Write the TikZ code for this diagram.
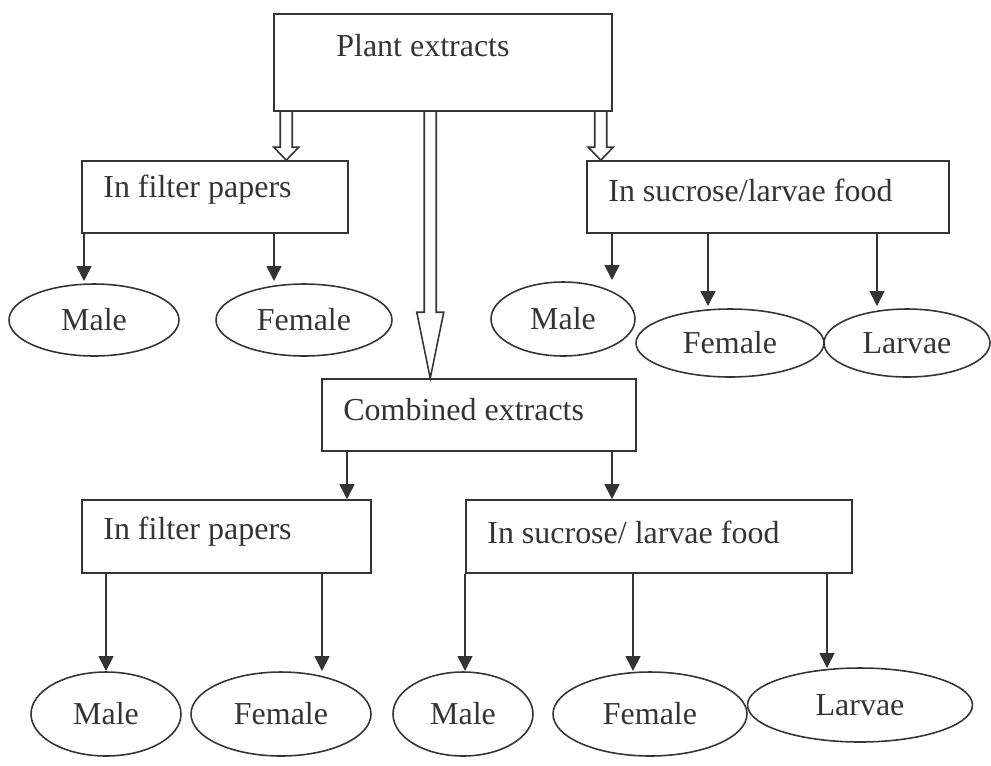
\documentclass[tikz,border=0pt]{standalone}
\usepackage{fontspec}
\setmainfont{Liberation Serif}
\usepackage{xcolor}
\usetikzlibrary{arrows.meta,shapes.geometric,calc}
\definecolor{ink}{RGB}{52,52,52}
\tikzset{
  box/.style={draw=ink,line width=0.9pt,rectangle,inner sep=0pt},
  oval/.style={draw=ink,line width=0.9pt,ellipse,inner sep=0pt,text=ink},
  txt/.style={anchor=west,inner sep=0pt,text=ink},
  arr/.style={draw=ink,line width=0.9pt,-{Triangle[length=0.3cm,width=0.3cm]}},
  hollow/.style={draw=ink,line width=0.9pt,line join=miter}
}
\newcommand{\hollowarr}[4]{%
\draw[hollow] ($(#1)+(-6,0)$) -- ($(#2)+(-6,-#3)$) -- ($(#2)+(-#4,-#3)$) -- (#2)
 -- ($(#2)+(#4,-#3)$) -- ($(#2)+(6,-#3)$) -- ($(#1)+(6,0)$);}

\begin{document}
\begin{tikzpicture}[x=0.02cm,y=-0.02cm,font=\fontsize{18.2}{22}\selectfont]
\useasboundingbox (0,0) rectangle (991,765);
\node[box,minimum width=6.76cm,minimum height=1.94cm](plant)at(443,62.5){};
\node[txt](plantT)at(336,46){Plant extracts};
\node[box,minimum width=5.32cm,minimum height=1.44cm](filtA)at(215,197){};
\node[txt](filtAT)at(103,190){In filter papers};
\node[box,minimum width=7.24cm,minimum height=1.44cm](sucA)at(768,197){};
\node[txt](sucAT)at(608,190){In sucrose/larvae food};
\node[box,minimum width=6.28cm,minimum height=1.44cm](comb)at(479,415){};
\node[txt](combT)at(343,410){Combined extracts};
\node[box,minimum width=5.78cm,minimum height=1.46cm](filtB)at(226.5,536.5){};
\node[txt](filtBT)at(103,532){In filter papers};
\node[box,minimum width=7.72cm,minimum height=1.46cm](sucB)at(659,536.5){};
\node[txt](sucBT)at(487,532){In sucrose/ larvae food};

\node[oval,minimum width=3.4cm,minimum height=1.44cm](mA)at(94,320){Male};
\node[oval,minimum width=3.52cm,minimum height=1.44cm](fA)at(304,320){Female};
\node[oval,minimum width=2.88cm,minimum height=1.48cm](mB)at(563,319){Male};
\node[oval,minimum width=3.76cm,minimum height=1.36cm](fB)at(730,343){Female};
\node[oval,minimum width=3.32cm,minimum height=1.36cm](lB)at(907,343){Larvae};
\node[oval,minimum width=3.0cm,minimum height=1.68cm](mC)at(106,714){Male};
\node[oval,minimum width=3.6cm,minimum height=1.68cm](fC)at(281,714){Female};
\node[oval,minimum width=2.8cm,minimum height=1.68cm](mD)at(463,714){Male};
\node[oval,minimum width=3.88cm,minimum height=1.68cm](fD)at(650,714){Female};
\node[oval,minimum width=4.5cm,minimum height=1.48cm](lD)at(860,705){Larvae};

\coordinate(p1)at($(plant.south west)+(13,0)$);
\coordinate(p2)at($(plant.south west)+(157,0)$);
\coordinate(p3)at($(plant.south east)+(-12,0)$);
\coordinate(t1)at(p1|-filtA.north);
\coordinate(t2)at(p2|-comb.north);
\coordinate(t3)at(p3|-sucA.north);
\hollowarr{p1}{t1}{13}{12.5}
\hollowarr{p2}{t2}{66}{13.5}
\hollowarr{p3}{t3}{13}{12.5}

\draw[arr](filtA.south-|84,0)--(84,281);
\draw[arr](filtA.south-|274,0)--(274,281);
\draw[arr](sucA.south-|612,0)--(612,280);
\draw[arr](sucA.south-|708,0)--(708,306);
\draw[arr](sucA.south-|877,0)--(877,306);
\draw[arr](comb.south-|347,0)--(filtB.north-|347,0);
\draw[arr](comb.south-|612,0)--(sucB.north-|612,0);
\draw[arr](filtB.south-|106,0)--(106,671);
\draw[arr](filtB.south-|322,0)--(322,671);
\draw[arr](sucB.south-|465,0)--(465,671);
\draw[arr](sucB.south-|633,0)--(633,671);
\draw[arr](sucB.south-|827,0)--(827,668);
\end{tikzpicture}
\end{document}
